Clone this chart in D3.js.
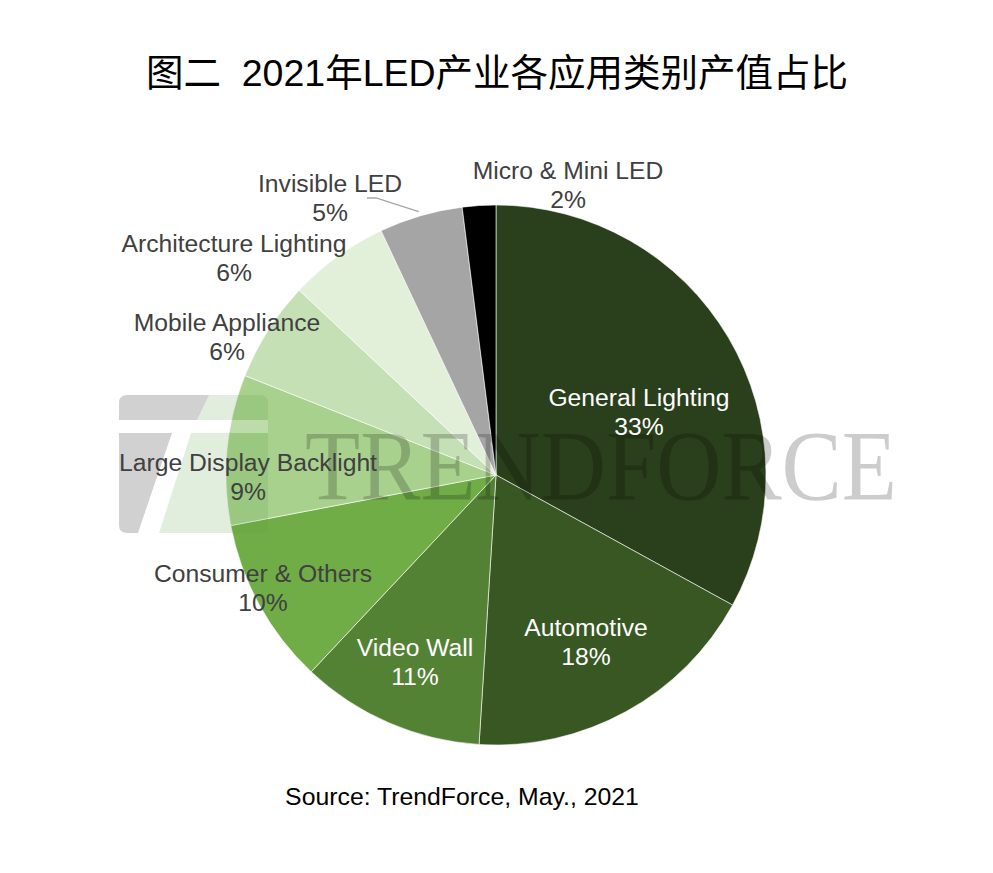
<!DOCTYPE html>
<html>
<head>
<meta charset="utf-8">
<script src="https://cdn.jsdelivr.net/npm/d3@7"></script>
<style>
  body { margin: 0; background: #fff; }
  svg { display: block; }
  .lbl { font-family: "Liberation Sans", Arial, sans-serif; font-size: 24.7px; }
</style>
</head>
<body>
<svg id="chart"></svg>
<script>
const categories = [
  "General Lighting", "Automotive", "Video Wall", "Consumer & Others",
  "Large Display Backlight", "Mobile Appliance", "Architecture Lighting",
  "Invisible LED", "Micro & Mini LED"
];
const shares = [33, 18, 11, 10, 9, 6, 6, 5, 2];
const colors = [
  "#2a3f1b", "#385723", "#548235", "#70ad47",
  "#a9d18e", "#c5e0b4", "#e2f0d9", "#a5a5a5", "#000000"
];
// label anchor (text centre) relative to pie centre, white labels on dark slices
const labelPos = [
  [143, -64], [90, 166], [-81, 186], [-233, 112],
  [-248, 1], [-269, -139], [-262, -218], [-166, -278], [72, -291]
];
const whiteLabel = [true, true, true, false, false, false, false, false, false];

const width = 993;
const height = 873;
const cx = 496, cy = 475, radius = 270;

const svg = d3.select("#chart").attr("width", width).attr("height", height);

svg.append("text")
  .attr("x", 497).attr("y", 86)
  .attr("text-anchor", "middle")
  .style("white-space", "pre")
  .style("font-family", "'Liberation Sans', 'Noto Sans CJK SC', sans-serif")
  .style("font-size", "37.5px")
  .attr("fill", "#000")
  .text("图二  2021年LED产业各应用类别产值占比");

const data = categories.map((c, i) => ({ name: c, value: shares[i], i }));

const pie = d3.pie().sort(null).value((d) => d.value);
const arc = d3.arc().innerRadius(0).outerRadius(radius);

const g = svg.append("g").attr("transform", `translate(${cx},${cy})`);

g.selectAll("path")
  .data(pie(data))
  .join("path")
  .attr("d", arc)
  .attr("fill", (d) => colors[d.data.i])
  .attr("stroke", "#fff")
  .attr("stroke-width", 0.6);

// leader line for the Invisible LED label
const invArc = pie(data)[7];
const mid = (invArc.startAngle + invArc.endAngle) / 2;
const edge = [Math.sin(mid) * radius, -Math.cos(mid) * radius];
g.append("polyline")
  .attr("points", [[-129, -277], [-120, -277], [edge[0] - 2, edge[1] - 4]].map((p) => p.join(",")).join(" "))
  .attr("fill", "none")
  .attr("stroke", "#a6a6a6")
  .attr("stroke-width", 1.3);

// watermark
const wm = svg.append("g");
const lx = 119, ly = 395, lw = 149, lh = 138;
wm.append("path")
  .attr("fill", "#000").attr("fill-opacity", 0.18)
  .attr("d", `M${lx + 8},${ly} H${lx + 90} L${lx + 78},${ly + 25} H${lx} V${ly + 8} Q${lx},${ly} ${lx + 8},${ly} Z
              M${lx},${ly + 38} H${lx + 53} L${lx + 19},${lh + ly} H${lx + 8} Q${lx},${ly + lh} ${lx},${ly + lh - 8} Z`);
wm.append("path")
  .attr("fill", "#5f9e43").attr("fill-opacity", 0.18)
  .attr("d", `M${lx + 90},${ly} H${lx + lw - 8} Q${lx + lw},${ly} ${lx + lw},${ly + 8} V${ly + 25} H${lx + 78} Z
              M${lx + 72},${ly + 38} H${lx + lw} V${ly + lh - 8} Q${lx + lw},${ly + lh} ${lx + lw - 8},${ly + lh} H${lx + 40} Z`);
wm.append("path")
  .attr("fill", "#fff").attr("fill-opacity", 0.25)
  .attr("d", `M${lx},${ly + 25} H${lx + lw} V${ly + 38} H${lx} Z
              M${lx + 53},${ly + 38} H${lx + 72} L${lx + 40},${ly + lh} H${lx + 19} Z`);
wm.append("text")
  .attr("x", 305).attr("y", 499)
  .attr("textLength", 592)
  .attr("lengthAdjust", "spacingAndGlyphs")
  .style("font-family", "'Liberation Serif', 'Times New Roman', serif")
  .style("font-size", "100px")
  .attr("fill", "#000").attr("fill-opacity", 0.2)
  .text("TRENDFORCE");

// slice labels
const labels = svg.append("g").attr("class", "lbl");
data.forEach((d, i) => {
  const t = labels.append("text")
    .attr("text-anchor", "middle")
    .attr("fill", whiteLabel[i] ? "#ffffff" : "#404040");
  t.append("tspan")
    .attr("x", cx + labelPos[i][0]).attr("y", cy + labelPos[i][1] - 5)
    .text(d.name);
  t.append("tspan")
    .attr("x", cx + labelPos[i][0]).attr("y", cy + labelPos[i][1] + 24)
    .text(d.value + "%");
});

svg.append("text")
  .attr("x", 462).attr("y", 805)
  .attr("text-anchor", "middle")
  .style("font-family", "'Liberation Sans', Arial, sans-serif")
  .style("font-size", "24.8px")
  .attr("fill", "#000")
  .text("Source: TrendForce, May., 2021");
</script>
</body>
</html>
